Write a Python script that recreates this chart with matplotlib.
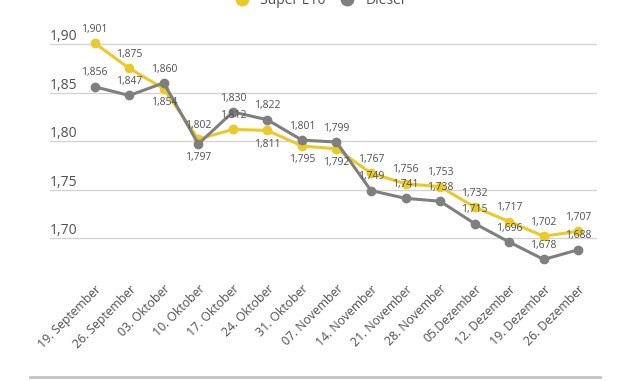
import matplotlib.pyplot as plt
from matplotlib.lines import Line2D

plt.rcParams['font.family'] = ['Open Sans', 'DejaVu Sans']

# Wochen und Durchschnittspreise (Euro je Liter)
dates = ['19. September', '26. September', '03. Oktober', '10. Oktober', '17. Oktober',
         '24. Oktober', '31. Oktober', '07. November', '14. November', '21. November',
         '28. November', '05.Dezember', '12. Dezember', '19. Dezember', '26. Dezember']
super_e10 = [1.901, 1.875, 1.854, 1.802, 1.812, 1.811, 1.795, 1.792, 1.767, 1.756,
             1.753, 1.732, 1.717, 1.702, 1.707]
diesel = [1.856, 1.847, 1.860, 1.797, 1.830, 1.822, 1.801, 1.799, 1.749, 1.741,
          1.738, 1.715, 1.696, 1.678, 1.688]
y_ticks = [1.70, 1.75, 1.80, 1.85, 1.90]

# label placement: 1 = above the point, -1 = below
e10_pos = [1, 1, -1, 1, 1, -1, -1, -1, 1, 1, 1, 1, 1, 1, 1]
diesel_pos = [1, 1, 1, -1, 1, 1, 1, 1, 1, 1, 1, 1, 1, 1, 1]

yellow = '#e9c92c'
grey = '#7f7f80'
txt = '#505050'

fig = plt.figure(figsize=(6.3, 3.81), dpi=100)
ax = fig.add_axes([0.079, 0.291, 0.869, 0.630])

x = list(range(len(dates)))
ax.plot(x, super_e10, color=yellow, lw=2.2, marker='o', ms=6, zorder=3)
ax.plot(x, diesel, color=grey, lw=2.2, marker='o', ms=6, zorder=4)

for xs, ys, pos in ((x, super_e10, e10_pos), (x, diesel, diesel_pos)):
    for xi, yi, p in zip(xs, ys, pos):
        ax.annotate(f'{yi:.3f}'.replace('.', ','), (xi, yi), xytext=(0, 6 * p),
                    textcoords='offset points', ha='center',
                    va='bottom' if p > 0 else 'top', fontsize=7.5, color=txt, zorder=5)

ax.set_xlim(-1.3, 14.55)
ax.set_ylim(1.667, 1.9144)

ax.set_yticks(y_ticks)
ax.set_yticklabels([f'{t:.2f}'.replace('.', ',') for t in y_ticks], fontsize=10, color=txt)
ax.tick_params(axis='y', length=0, pad=0)
for lbl in ax.get_yticklabels():
    lbl.set_ha('left')
    lbl.set_va('bottom')
ax.yaxis.grid(True, color='#d4d4d4', lw=1)
ax.set_axisbelow(True)

ax.set_xticks(x)
ax.set_xticklabels(dates, rotation=45, ha='right', rotation_mode='anchor',
                   fontsize=8.8, color=txt)
ax.tick_params(axis='x', length=0, pad=9)

for s in ax.spines.values():
    s.set_visible(False)

handles = [Line2D([], [], ls='', marker='o', ms=9, color=yellow),
           Line2D([], [], ls='', marker='o', ms=9, color=grey)]
fig.legend(handles, ['Super E10', 'Diesel'], loc='center', bbox_to_anchor=(0.502, 0.998),
           ncol=2, frameon=False, fontsize=10, labelcolor=txt,
           handletextpad=0.3, columnspacing=0.6)

fig.add_artist(Line2D([0.048, 0.952], [0.011, 0.011], color='#c4c4c4', lw=2))

fig.savefig('out.png', dpi=100)
